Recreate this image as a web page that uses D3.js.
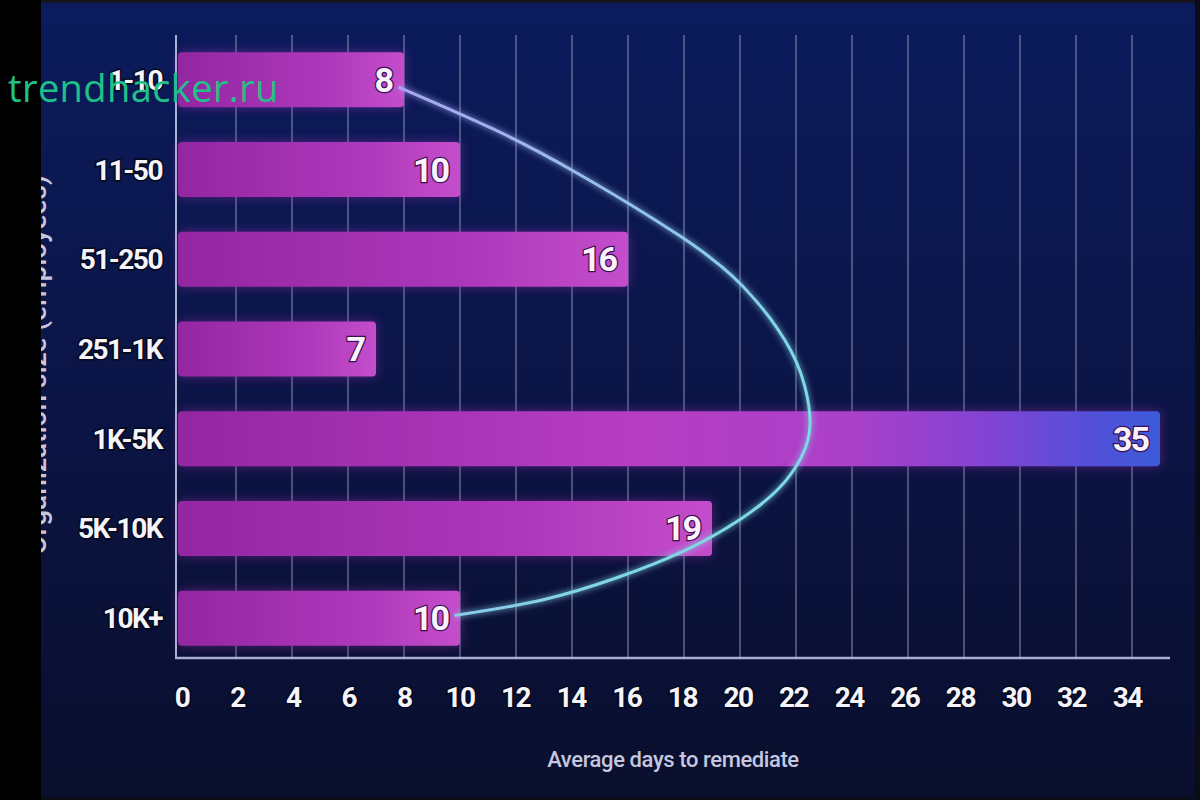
<!DOCTYPE html>
<html>
<head>
<meta charset="utf-8">
<script src="https://cdn.jsdelivr.net/npm/d3@7/dist/d3.min.js"></script>
<style>
  html, body { margin: 0; padding: 0; background: #000; }
  svg { display: block; }
</style>
</head>
<body>
<script>
// chart values
const categories = ["1-10", "11-50", "51-250", "251-1K", "1K-5K", "5K-10K", "10K+"];
const avgDays = [8, 10, 16, 7, 35, 19, 10];
const xTickValues = [0, 2, 4, 6, 8, 10, 12, 14, 16, 18, 20, 22, 24, 26, 28, 30, 32, 34];

// trend curve: position along the category axis (0 = first row) and days
const trendRow = [0.08, 0.55, 1.06, 1.75, 2.30, 2.90, 3.40, 3.85, 4.20, 4.55, 4.90, 5.25, 5.55, 5.80, 5.97];
const trendDays = [7.8, 11.2, 14.3, 17.9, 20.1, 21.6, 22.3, 22.5, 22.2, 21.4, 20.0, 18.0, 15.6, 12.9, 9.8];

const xTitle = "Average days to remediate";
const yTitle = "Organization size (employees)";
const watermark = "trendhacker.ru";

const width = 1200, height = 800;

const svg = d3.select("body").append("svg")
    .attr("width", width)
    .attr("height", height);

const defs = svg.append("defs");

// background gradient
const bg = defs.append("linearGradient")
    .attr("id", "bg")
    .attr("x1", 0).attr("y1", 0).attr("x2", 0).attr("y2", 1);
bg.append("stop").attr("offset", "0%").attr("stop-color", "#0b1b5c");
bg.append("stop").attr("offset", "45%").attr("stop-color", "#0b1548");
bg.append("stop").attr("offset", "100%").attr("stop-color", "#0a0f2d");

svg.append("rect")
    .attr("width", width)
    .attr("height", height)
    .attr("fill", "url(#bg)");

// scales
const x = d3.scaleLinear()
    .domain([0, 35])
    .range([180, 1160]);

const y = d3.scaleBand()
    .domain(categories)
    .range([35, 663])
    .paddingInner(0.387)
    .paddingOuter(0.1935);

const yRow = d3.scaleLinear()
    .domain([0, categories.length - 1])
    .range([y(categories[0]) + y.bandwidth() / 2,
            y(categories[categories.length - 1]) + y.bandwidth() / 2]);

const maxDays = d3.max(avgDays);

// short bars: darker magenta on the left, lighter at the end
const barGrad = defs.append("linearGradient")
    .attr("id", "barGrad")
    .attr("x1", 0).attr("y1", 0).attr("x2", 1).attr("y2", 0);
[["0%", "#9426a2"], ["65%", "#ad38ba"], ["100%", "#c44dcb"]]
    .forEach(s => barGrad.append("stop").attr("offset", s[0]).attr("stop-color", s[1]));

// the long bar runs from magenta into blue
const longGrad = defs.append("linearGradient")
    .attr("id", "longGrad")
    .attr("x1", 0).attr("y1", 0).attr("x2", 1).attr("y2", 0);
[["0%", "#9426a2"], ["45%", "#b63dc2"], ["68%", "#ac40c9"],
 ["82%", "#8443d3"], ["93%", "#5350d9"], ["100%", "#3a5bd9"]]
    .forEach(s => longGrad.append("stop").attr("offset", s[0]).attr("stop-color", s[1]));

const glow = defs.append("filter")
    .attr("id", "barGlow")
    .attr("x", "-5%").attr("y", "-40%")
    .attr("width", "110%").attr("height", "180%");
glow.append("feGaussianBlur").attr("stdDeviation", 6);

const lineGlow = defs.append("filter")
    .attr("id", "lineGlow")
    .attr("x", "-20%").attr("y", "-20%")
    .attr("width", "140%").attr("height", "140%");
lineGlow.append("feGaussianBlur").attr("in", "SourceGraphic").attr("stdDeviation", 3).attr("result", "b");
const merge = lineGlow.append("feMerge");
merge.append("feMergeNode").attr("in", "b");
merge.append("feMergeNode").attr("in", "SourceGraphic");

const curveGrad = defs.append("linearGradient")
    .attr("id", "curveGrad")
    .attr("gradientUnits", "userSpaceOnUse")
    .attr("x1", x(8)).attr("y1", yRow(0))
    .attr("x2", x(22)).attr("y2", yRow(3));
curveGrad.append("stop").attr("offset", "0%").attr("stop-color", "#a9a6f2");
curveGrad.append("stop").attr("offset", "100%").attr("stop-color", "#7fd8e6");

// vertical grid
svg.append("g")
    .selectAll("line")
    .data(xTickValues.filter(d => d > 0))
    .join("line")
    .attr("x1", d => x(d)).attr("x2", d => x(d))
    .attr("y1", 35).attr("y2", 658)
    .attr("stroke", "#9aa0c2")
    .attr("stroke-opacity", 0.6)
    .attr("stroke-width", 1.5);

// bars: glow underneath, then the bar itself
const bars = svg.append("g");
bars.selectAll("rect.glow")
    .data(avgDays)
    .join("rect")
    .attr("class", "glow")
    .attr("x", x(0))
    .attr("y", (d, i) => y(categories[i]))
    .attr("width", d => x(d) - x(0))
    .attr("height", y.bandwidth())
    .attr("fill", "#a02ab8")
    .attr("opacity", 0.5)
    .attr("filter", "url(#barGlow)");

bars.selectAll("rect.bar")
    .data(avgDays)
    .join("rect")
    .attr("class", "bar")
    .attr("x", x(0) - 2)
    .attr("y", (d, i) => y(categories[i]))
    .attr("width", d => x(d) - x(0) + 2)
    .attr("height", y.bandwidth())
    .attr("rx", 4)
    .attr("fill", d => d === maxDays ? "url(#longGrad)" : "url(#barGrad)");

// axes lines
svg.append("line")
    .attr("x1", 176).attr("x2", 176)
    .attr("y1", 35).attr("y2", 659)
    .attr("stroke", "#a9b0d2")
    .attr("stroke-width", 2);
svg.append("line")
    .attr("x1", 175).attr("x2", 1170)
    .attr("y1", 658).attr("y2", 658)
    .attr("stroke", "#a9b0d2")
    .attr("stroke-width", 2.5);

// trend curve
const trend = trendRow.map((r, i) => [trendDays[i], r]);
const line = d3.line()
    .x(d => x(d[0]))
    .y(d => yRow(d[1]))
    .curve(d3.curveNatural);

svg.append("path")
    .datum(trend)
    .attr("d", line)
    .attr("fill", "none")
    .attr("stroke", "url(#curveGrad)")
    .attr("stroke-width", 3)
    .attr("filter", "url(#lineGlow)");

// value labels
svg.append("g")
    .selectAll("text")
    .data(avgDays)
    .join("text")
    .attr("x", d => x(d) - 12)
    .attr("y", (d, i) => y(categories[i]) + y.bandwidth() / 2 + 12)
    .attr("text-anchor", "end")
    .attr("font-family", "Roboto, 'DejaVu Sans', sans-serif")
    .attr("font-weight", 700)
    .attr("font-size", 34)
    .attr("letter-spacing", -2)
    .attr("fill", "#fbf2ff")
    .attr("stroke", "#3a1050")
    .attr("stroke-width", 2.5)
    .attr("paint-order", "stroke")
    .text(d => d);

// category labels
svg.append("g")
    .selectAll("text")
    .data(categories)
    .join("text")
    .attr("x", 162)
    .attr("y", d => y(d) + y.bandwidth() / 2 + 10)
    .attr("text-anchor", "end")
    .attr("font-family", "Roboto, 'DejaVu Sans', sans-serif")
    .attr("font-weight", 700)
    .attr("font-size", 28)
    .attr("letter-spacing", -1.5)
    .attr("fill", "#f4f4fa")
    .attr("stroke", "#05081a")
    .attr("stroke-width", 3)
    .attr("paint-order", "stroke")
    .text(d => d);

// x tick labels
svg.append("g")
    .selectAll("text")
    .data(xTickValues)
    .join("text")
    .attr("x", d => x(d) + 2 - d * 0.2)
    .attr("y", 707)
    .attr("text-anchor", "middle")
    .attr("font-family", "Roboto, 'DejaVu Sans', sans-serif")
    .attr("font-weight", 700)
    .attr("font-size", 28)
    .attr("letter-spacing", -1.5)
    .attr("fill", "#f4f4fa")
    .attr("stroke", "#05081a")
    .attr("stroke-width", 3)
    .attr("paint-order", "stroke")
    .text(d => d);

// axis titles
svg.append("text")
    .attr("x", 673)
    .attr("y", 767)
    .attr("text-anchor", "middle")
    .attr("font-family", "Roboto, sans-serif")
    .attr("font-weight", 500)
    .attr("font-size", 22)
    .attr("letter-spacing", -0.4)
    .attr("fill", "#c4c7df")
    .text(xTitle);

// mostly hidden behind the black strip, as in the photo
svg.append("text")
    .attr("transform", "translate(46,365) rotate(-90)")
    .attr("text-anchor", "middle")
    .attr("font-family", "Roboto, sans-serif")
    .attr("font-weight", 500)
    .attr("font-size", 28)
    .attr("fill", "#c4c7df")
    .text(yTitle);

// dark frame: black strip on the left, thin dark edges
svg.append("rect").attr("x", 0).attr("y", 0).attr("width", 41).attr("height", height).attr("fill", "#000");
svg.append("rect").attr("x", 41).attr("y", 0).attr("width", width).attr("height", 3).attr("fill", "#14151e");
svg.append("rect").attr("x", 1195).attr("y", 0).attr("width", 5).attr("height", height).attr("fill", "#0a0c18");
svg.append("rect").attr("x", 41).attr("y", 797).attr("width", width).attr("height", 3).attr("fill", "#0a0c18");

// watermark
svg.append("text")
    .attr("x", 8)
    .attr("y", 102)
    .attr("font-family", "'Open Sans', sans-serif")
    .attr("font-size", 38)
    .attr("letter-spacing", 0.4)
    .attr("fill", "#1fc189")
    .text(watermark);
</script>
</body>
</html>
